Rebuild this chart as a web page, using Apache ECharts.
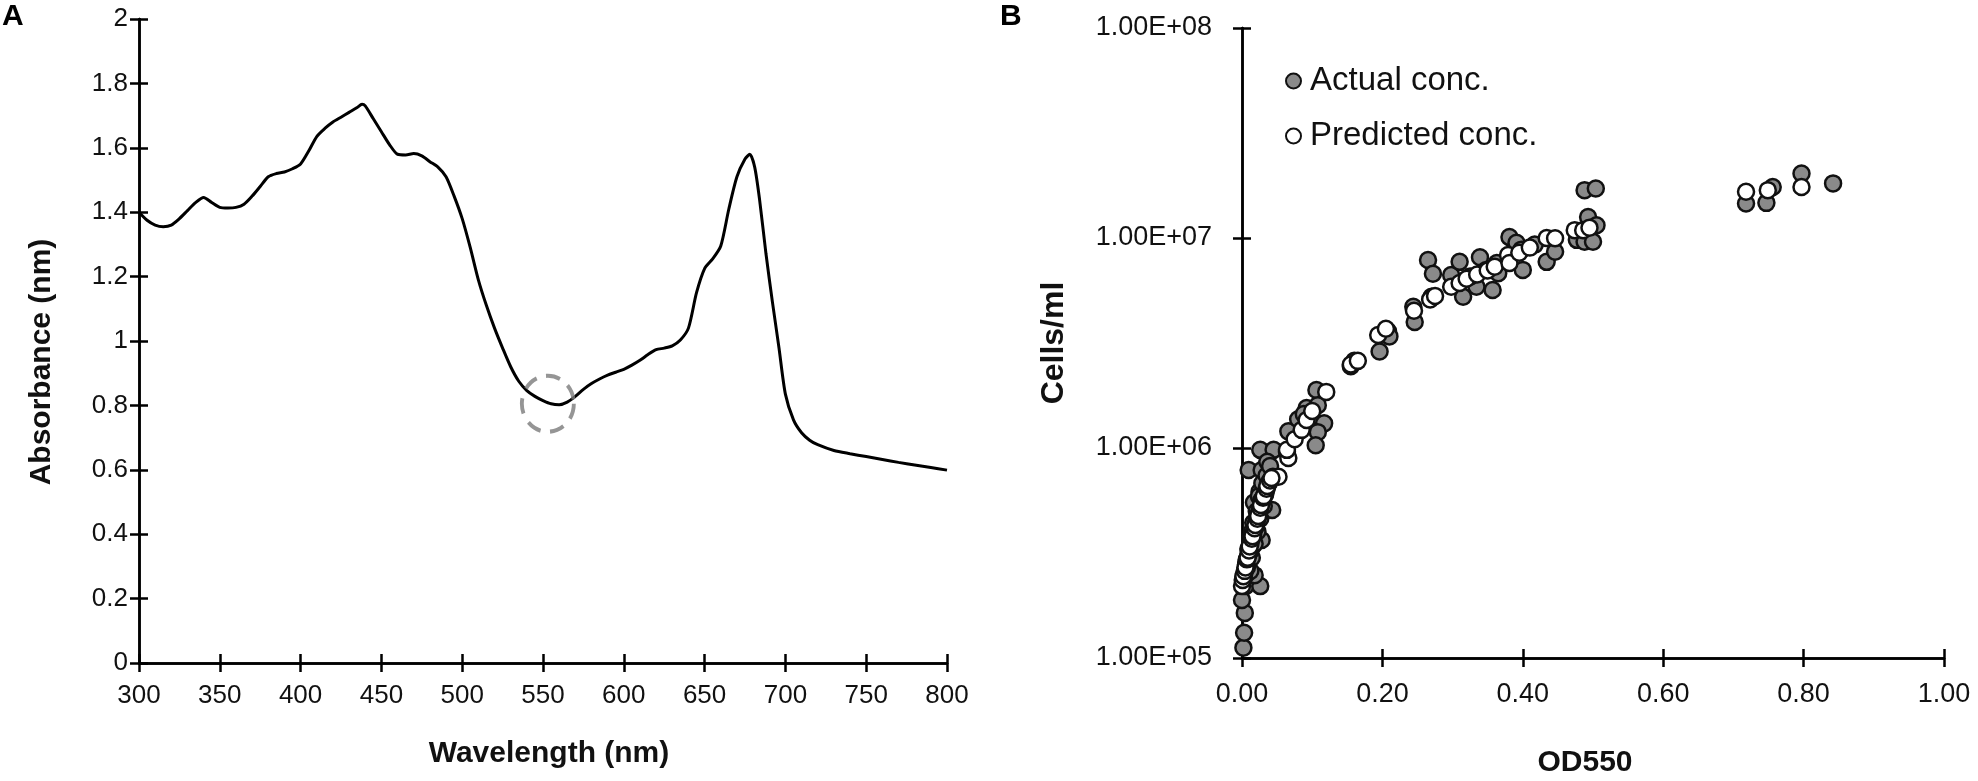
<!DOCTYPE html>
<html>
<head>
<meta charset="utf-8">
<script src="https://cdn.jsdelivr.net/npm/echarts@6/dist/echarts.min.js"></script>
<style>
html,body{margin:0;padding:0;background:#fff;}
#chart{width:1978px;height:781px;}
</style>
</head>
<body>
<div id="chart"></div>
<script>
// ---------- Panel A data: absorbance spectrum ----------
const wavelength = [300,305,310,315,320,325,330,335,340,345,350,355,360,365,370,375,380,385,390,395,400,405,410,415,420,425,430,435,438,440,445,450,455,460,465,470,475,480,485,490,495,500,505,510,515,520,525,530,535,540,545,550,555,560,565,570,575,580,585,590,595,600,605,610,615,620,625,630,635,640,645,650,655,660,665,670,675,678,681,684,688,692,696,700,705,710,715,720,730,740,750,760,770,780,790,800];
const absorbance = [1.40,1.375,1.36,1.355,1.36,1.38,1.405,1.43,1.446,1.43,1.415,1.413,1.415,1.425,1.45,1.48,1.51,1.52,1.525,1.535,1.55,1.59,1.635,1.66,1.68,1.695,1.71,1.725,1.735,1.73,1.69,1.65,1.61,1.58,1.578,1.582,1.575,1.557,1.54,1.51,1.45,1.38,1.29,1.19,1.11,1.04,0.978,0.92,0.875,0.846,0.828,0.815,0.805,0.802,0.81,0.828,0.85,0.868,0.882,0.894,0.903,0.912,0.925,0.94,0.958,0.973,0.978,0.985,1.003,1.04,1.15,1.225,1.255,1.295,1.41,1.51,1.565,1.58,1.54,1.44,1.27,1.12,0.98,0.835,0.755,0.715,0.692,0.678,0.66,0.65,0.641,0.632,0.623,0.615,0.607,0.599];
const markerCircle = [[553, 0.805]];

// ---------- Panel B data: cells/ml vs OD550 ----------
const actualOD = [0.002,0.003,0.004,0.0,0.005,0.026,0.018,0.01,0.008,0.012,0.028,0.015,0.014,0.02,0.017,0.043,0.025,0.03,0.0095,0.028,0.026,0.045,0.064,0.036,
  0.004,0.012,0.006,0.014,0.009,0.018,0.013,0.022,0.016,0.026,0.021,0.031,0.024,0.034,0.029,0.038,
  0.007,0.011,0.019,0.023,0.027,0.033,0.035,0.040,
  0.066,0.08,0.092,0.106,0.108,0.117,0.108,0.105,0.088,
  0.155,0.16,0.196,0.208,0.21,0.246,0.244,0.265,0.272,0.27,0.298,0.31,0.315,0.339,0.334,0.357,0.325,0.348,0.365,0.363,0.381,0.391,0.398,0.4,0.417,0.434,0.446,0.477,0.488,0.5,0.493,0.505,0.488,0.504,
  0.718,0.747,0.756,0.797,0.842];
const actualCells = [1.12e5,1.32e5,1.64e5,1.89e5,2.2e5,2.2e5,2.48e5,2.6e5,2.9e5,3.1e5,3.65e5,3.4e5,4.0e5,4.4e5,5.5e5,5.07e5,6.2e5,6.8e5,7.85e5,7.85e5,9.8e5,9.8e5,9.6e5,8.6e5,
  2.45e5,2.6e5,2.85e5,3.0e5,3.3e5,3.5e5,3.8e5,4.0e5,4.4e5,4.6e5,5.0e5,5.3e5,5.9e5,6.3e5,6.8e5,7.1e5,
  2.7e5,3.2e5,4.2e5,4.8e5,5.6e5,6.0e5,7.4e5,8.2e5,
  1.2e6,1.37e6,1.55e6,1.89e6,1.6e6,1.31e6,1.19e6,1.03e6,1.45e6,
  2.45e6,2.6e6,2.88e6,3.6e6,3.4e6,3.98e6,4.7e6,7.85e6,6.76e6,5.25e6,6.67e6,7.7e6,5.25e6,8.1e6,5.86e6,5.65e6,6.55e6,7.05e6,6.8e6,7.6e6,1.01e7,9.5e6,8.8e6,7.05e6,9.3e6,7.7e6,8.6e6,9.8e6,9.6e6,9.6e6,1.26e7,1.15e7,1.69e7,1.72e7,
  1.46e7,1.47e7,1.75e7,2.03e7,1.82e7];
const predictedOD = [0.0,0.003,0.006,0.009,0.012,0.016,0.02,0.024,0.028,0.033,0.038,0.044,0.052,0.066,0.064,
  0.001,0.002,0.004,0.005,0.007,0.008,0.010,0.011,0.014,0.015,0.018,0.019,0.022,0.023,0.026,0.027,0.030,0.031,0.035,0.036,0.040,0.042,
  0.075,0.085,0.092,0.1,0.12,0.155,0.165,0.194,0.205,0.245,0.268,0.275,0.298,0.31,0.32,0.335,0.35,0.36,0.379,0.381,0.395,0.41,0.434,0.446,0.474,0.486,0.495,
  0.718,0.749,0.797];
const predictedCells = [2.2e5,2.5e5,2.8e5,3.1e5,3.5e5,3.9e5,4.4e5,4.9e5,5.5e5,6.1e5,6.8e5,7.3e5,7.3e5,8.96e5,9.8e5,
  2.35e5,2.45e5,2.6e5,2.7e5,2.95e5,3.0e5,3.25e5,3.4e5,3.7e5,3.8e5,4.15e5,4.3e5,4.6e5,4.75e5,5.2e5,5.35e5,5.8e5,5.9e5,6.4e5,6.6e5,7.0e5,7.2e5,
  1.1e6,1.22e6,1.36e6,1.5e6,1.85e6,2.5e6,2.6e6,3.45e6,3.7e6,4.5e6,5.1e6,5.3e6,5.86e6,6.1e6,6.4e6,6.7e6,7.0e6,7.3e6,8.3e6,7.6e6,8.5e6,9.0e6,1.0e7,9.97e6,1.09e7,1.09e7,1.12e7,
  1.66e7,1.69e7,1.75e7];
const yTickLabelsB = ['1.00E+05','1.00E+06','1.00E+07','1.00E+08'];

const FONT = 'Liberation Sans, Arial, Helvetica, sans-serif';
const lineData = wavelength.map((w, i) => [w, absorbance[i]]);
const actualData = actualOD.map((x, i) => [x, actualCells[i]]);
const predictedData = predictedOD.map((x, i) => [x, predictedCells[i]]);

const axisLineStyle = {lineStyle: {color: '#000', width: 2.5}};
const tickLabel = {color: '#111', fontSize: 26, fontFamily: FONT};

const chart = echarts.init(document.getElementById('chart'));
chart.setOption({
  animation: false,
  backgroundColor: '#fff',
  grid: [
    {left: 139, top: 19, width: 808, height: 644},
    {left: 1242, top: 28, width: 702, height: 630}
  ],
  xAxis: [
    {gridIndex: 0, type: 'value', min: 300, max: 800, interval: 50,
     axisLine: axisLineStyle, axisTick: {length: 9, lineStyle: {color: '#000', width: 2.5}},
     axisLabel: Object.assign({margin: 20}, tickLabel), splitLine: {show: false}},
    {gridIndex: 0, type: 'value', min: 300, max: 800, interval: 50, position: 'bottom',
     axisLine: axisLineStyle, axisTick: {inside: true, length: 9, lineStyle: {color: '#000', width: 2.5}},
     axisLabel: {show: false}, splitLine: {show: false}},
    {gridIndex: 1, type: 'value', min: 0, max: 1, interval: 0.2,
     axisLine: axisLineStyle, axisTick: {length: 9, lineStyle: {color: '#000', width: 2.5}},
     axisLabel: Object.assign({margin: 23, formatter: v => v.toFixed(2)}, tickLabel, {fontSize: 27}), splitLine: {show: false}},
    {gridIndex: 1, type: 'value', min: 0, max: 1, interval: 0.2, position: 'bottom',
     axisLine: axisLineStyle, axisTick: {inside: true, length: 9, lineStyle: {color: '#000', width: 2.5}},
     axisLabel: {show: false}, splitLine: {show: false}}
  ],
  yAxis: [
    {gridIndex: 0, type: 'value', min: 0, max: 2, interval: 0.2,
     axisLine: axisLineStyle, axisTick: {length: 9, lineStyle: {color: '#000', width: 2.5}},
     axisLabel: Object.assign({margin: 11}, tickLabel), splitLine: {show: false}},
    {gridIndex: 0, type: 'value', min: 0, max: 2, interval: 0.2, position: 'left',
     axisLine: axisLineStyle, axisTick: {inside: true, length: 9, lineStyle: {color: '#000', width: 2.5}},
     axisLabel: {show: false}, splitLine: {show: false}},
    {gridIndex: 1, type: 'log', logBase: 10, min: 1e5, max: 1e8,
     axisLine: axisLineStyle, axisTick: {length: 9, lineStyle: {color: '#000', width: 2.5}},
     axisLabel: Object.assign({margin: 30, formatter: v => yTickLabelsB[Math.round(Math.log10(v)) - 5]}, tickLabel, {fontSize: 27}),
     splitLine: {show: false}, minorTick: {show: false}},
    {gridIndex: 1, type: 'log', logBase: 10, min: 1e5, max: 1e8, position: 'left',
     axisLine: axisLineStyle, axisTick: {inside: true, length: 9, lineStyle: {color: '#000', width: 2.5}},
     axisLabel: {show: false}, splitLine: {show: false}}
  ],
  legend: {
    orient: 'vertical', left: 1280, top: 56, itemWidth: 15, itemHeight: 15, itemGap: 15,
    icon: 'circle',
    textStyle: {fontSize: 33, color: '#111', fontFamily: FONT, lineHeight: 40, padding: [0, 0, 0, 4]},
    data: ['Actual conc.', 'Predicted conc.']
  },
  series: [
    {type: 'line', name: 'Absorbance', xAxisIndex: 0, yAxisIndex: 0, data: lineData,
     showSymbol: false, smooth: 0.25, lineStyle: {color: '#000', width: 3}, z: 3},
    {type: 'scatter', name: 'marker', xAxisIndex: 0, yAxisIndex: 0, data: markerCircle,
     symbol: 'circle', symbolSize: [52, 56],
     itemStyle: {color: 'rgba(0,0,0,0)', borderColor: '#7a7a7a', borderWidth: 4, borderType: [15, 10]}, z: 4},
    {type: 'scatter', name: 'Actual conc.', xAxisIndex: 2, yAxisIndex: 2, data: actualData,
     symbol: 'circle', symbolSize: 16,
     itemStyle: {color: '#8a8a8a', borderColor: '#111', borderWidth: 2.5, opacity: 1}, z: 3},
    {type: 'scatter', name: 'Predicted conc.', xAxisIndex: 2, yAxisIndex: 2, data: predictedData,
     symbol: 'circle', symbolSize: 16,
     itemStyle: {color: '#fff', borderColor: '#111', borderWidth: 2.5, opacity: 1}, z: 4}
  ],
  graphic: [
    {type: 'text', left: 2, top: 2, style: {text: 'A', font: 'bold 30px ' + FONT, fill: '#000'}},
    {type: 'text', left: 1000, top: 2, style: {text: 'B', font: 'bold 30px ' + FONT, fill: '#000'}},
    {type: 'text', x: 549, y: 754, style: {text: 'Wavelength (nm)', font: 'bold 30px ' + FONT, fill: '#111', align: 'center', verticalAlign: 'middle'}},
    {type: 'text', x: 42, y: 362, rotation: Math.PI / 2, style: {text: 'Absorbance (nm)', font: 'bold 30px ' + FONT, fill: '#111', align: 'center', verticalAlign: 'middle'}},
    {type: 'text', x: 1585, y: 763, style: {text: 'OD550', font: 'bold 30px ' + FONT, fill: '#111', align: 'center', verticalAlign: 'middle'}},
    {type: 'text', x: 1054, y: 343, rotation: Math.PI / 2, style: {text: 'Cells/ml', font: 'bold 32px ' + FONT, fill: '#111', align: 'center', verticalAlign: 'middle'}}
  ]
});
</script>
</body>
</html>
